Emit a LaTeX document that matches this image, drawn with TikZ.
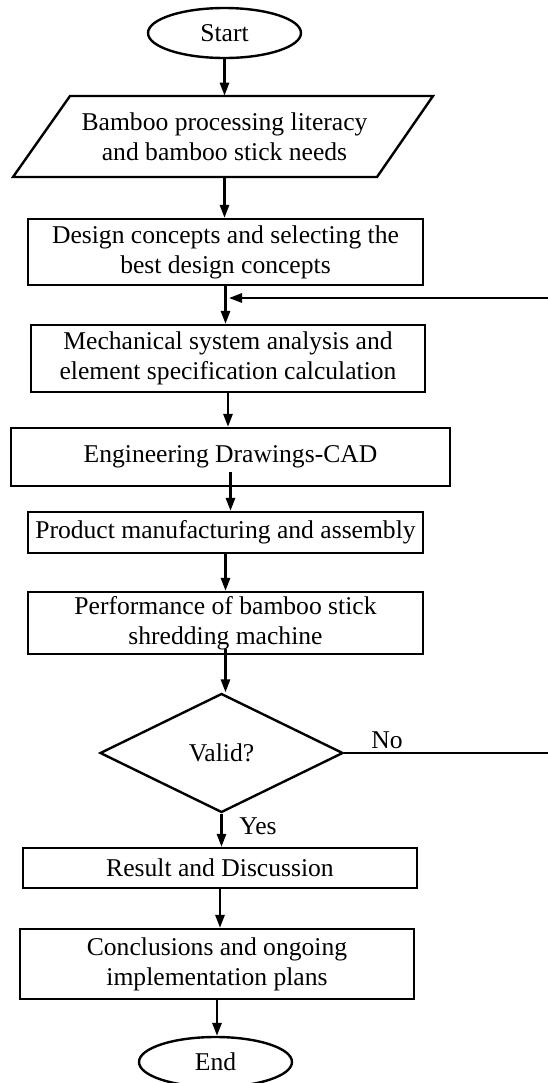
\documentclass[tikz,border=0pt]{standalone}
\usepackage{fontspec}
\setmainfont{Liberation Serif}
\usetikzlibrary{shapes.geometric,arrows.meta}
\newcommand{\flowfont}{\fontsize{12.8}{15}\selectfont}
\tikzset{
	block/.style={draw, line width=1.2pt, rectangle, inner sep=0pt, align=center, font=\flowfont},
	term/.style={draw, line width=1.2pt, ellipse, inner sep=0pt, minimum width=76.5pt, minimum height=25pt, font=\flowfont},
	decide/.style={draw, line width=1.2pt, diamond, inner sep=0pt, minimum width=121.5pt, minimum height=59.5pt, font=\flowfont},
	flow/.style={line width=1.2pt, -{Triangle[length=6.5pt,width=4.6pt]}},
	tag/.style={inner sep=0pt, font=\flowfont},
}

\begin{document}
\begin{tikzpicture}[x=0.5pt, y=-0.5pt]
			%%%%% START %%%%%
			\useasboundingbox (0, 0) rectangle (547, 1083);
			
			\node[term] (start) at (224.5, 33) {Start};
			
			\draw[line width=1.2pt] (70, 96) -- (433, 96) -- (377, 177) -- (13, 177) -- cycle;
			\node[align=center, inner sep=0pt, minimum height=40.5pt, font=\flowfont] (need) at (224.5, 136.5) {Bamboo processing literacy\\and bamboo stick needs};
			
			\node[block, minimum width=197.5pt, minimum height=33pt] (design) at (225.5, 252) {Design concepts and selecting the\\best design concepts};
			\node[block, minimum width=197pt, minimum height=33.5pt] (mech) at (228, 358.5) {Mechanical system analysis and\\element specification calculation};
			\node[block, minimum width=219.5pt, minimum height=29pt] (cad) at (230.5, 457) {Engineering Drawings-CAD};
			\node[block, minimum width=197.5pt, minimum height=20.5pt] (manuf) at (225.5, 532.5) {Product manufacturing and assembly};
			\node[block, minimum width=197.5pt, minimum height=31pt] (perf) at (225.5, 623) {Performance of bamboo stick\\shredding machine};
			
			\node[decide] (valid) at (221.5, 753) {Valid?};
			
			\node[block, minimum width=197pt, minimum height=20pt] (result) at (220, 868) {Result and Discussion};
			\node[block, minimum width=197pt, minimum height=35pt] (concl) at (217, 964) {Conclusions and ongoing\\implementation plans};
			\node[term] (end) at (215.5, 1062) {End};
			
			\draw[flow] (start.south) -- (start.south |- need.north);
			\draw[flow] (need.south) -- (need.south |- design.north);
			\draw[flow] (design.south) -- (design.south |- mech.north);
			\draw[flow] (mech.south) -- (mech.south |- cad.north);
			\draw[flow] ([yshift=7.5pt]cad.south) -- (cad.south |- manuf.north);
			\draw[flow] (manuf.south) -- (manuf.south |- perf.north);
			\draw[flow] ([yshift=3pt]perf.south) -- (perf.south |- valid.north);
			\draw[flow] (valid.south) -- (valid.south |- result.north);
			\draw[flow] (result.south) -- (result.south |- concl.north);
			\draw[flow] (concl.south) -- (concl.south |- end.north);
			
			% loop back when not valid
			\coordinate (edge) at (549, 753);
			\coordinate (back) at (229, 298);
			\draw[flow] (valid.east) -- (edge) |- (back);
			
			\node[tag] (no) at (387, 740) {No};
			\node[tag] (yes) at (258, 826) {Yes};
			
			%%%%% END %%%%%
\end{tikzpicture}
\end{document}
